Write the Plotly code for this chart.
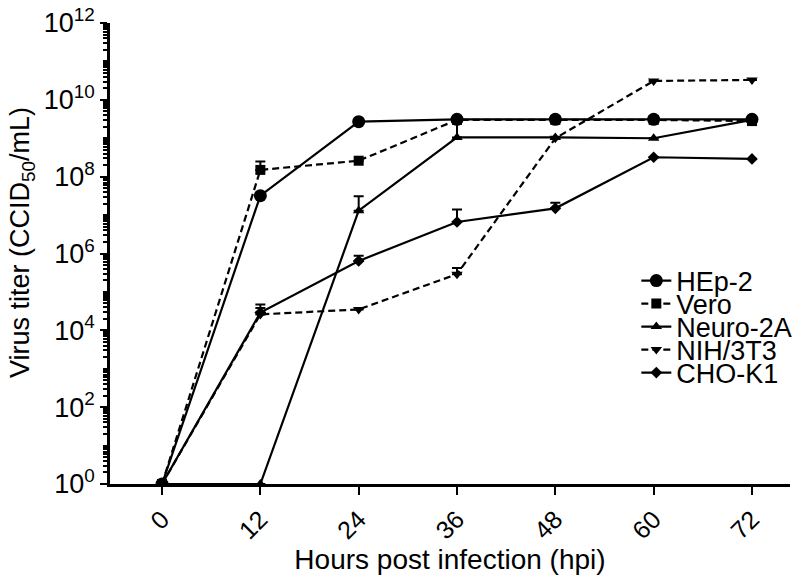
import plotly.graph_objects as go

hours = [0, 12, 24, 36, 48, 60, 72]
hep2 = [1, 3.2e7, 2.7e9, 3.1e9, 3.1e9, 3.1e9, 3.1e9]
vero = [1, 1.5e8, 2.6e8, 3.0e9, 3.0e9, 3.0e9, 2.8e9]
neuro = [1, 1, 1.3e7, 1.05e9, 1.05e9, 1.0e9, 3.0e9]
nih = [1, 2.6e4, 3.5e4, 2.9e5, 1.0e9, 3.1e10, 3.3e10]
cho = [1, 2.9e4, 6.4e5, 6.6e6, 1.5e7, 3.2e8, 2.9e8]

vero_err = [None, 1.0e8, None, None, None, None, None]
neuro_err = [None, None, 1.8e7, 2.0e9, None, None, None]
nih_err = [None, 1.2e4, None, 1.3e5, None, None, None]
cho_err = [None, 1.8e4, 2.3e5, 7.4e6, 6.0e6, None, None]

xtick_labels = ["0", "12", "24", "36", "48", "60", "72"]
ytick_exps = [0, 2, 4, 6, 8, 10, 12]

FONT = "Liberation Sans, Arial, sans-serif"

series = [
    ("HEp-2", hep2, None, "circle", 13, "solid"),
    ("Vero", vero, vero_err, "square", 10, "7px,4px"),
    ("Neuro-2A", neuro, neuro_err, "triangle-up", 10, "solid"),
    ("NIH/3T3", nih, nih_err, "triangle-down", 10, "7px,4px"),
    ("CHO-K1", cho, cho_err, "diamond", 9, "solid"),
]

# separate legend boxes so the rows can sit as close as in the original
legend_rows_px = [281, 304, 327, 350, 373]
plot_left, plot_right = 110, 790
plot_top, plot_bottom = 23, 484

fig = go.Figure()
legend_layout = {}
for i, (name, vals, err, sym, size, dash) in enumerate(series):
    lname = "legend" if i == 0 else "legend%d" % (i + 1)
    kw = {}
    if err is not None:
        kw["error_y"] = dict(type="data", symmetric=False, array=err,
                             arrayminus=[None if e is None else 0 for e in err],
                             color="black", thickness=2, width=5)
    fig.add_trace(go.Scatter(
        x=hours, y=vals, name=name, mode="lines+markers",
        line=dict(color="black", width=2.2, dash=dash),
        marker=dict(symbol=sym, size=size, color="black"),
        legend=lname, **kw))
    ypos = (plot_bottom - legend_rows_px[i]) / (plot_bottom - plot_top)
    legend_layout[lname] = dict(
        x=0.774, y=ypos, xanchor="left", yanchor="middle",
        font=dict(size=27, family=FONT, color="black"), itemwidth=30,
        bgcolor="rgba(0,0,0,0)", borderwidth=0)

minor_vals = []
for d in range(0, 12):
    for k in range(1, 10):
        v = k * 10 ** d
        if k == 1 and d % 2 == 0:
            continue
        minor_vals.append(v)

fig.update_layout(
    width=805, height=577,
    margin=dict(l=plot_left, r=805 - plot_right, t=plot_top, b=577 - plot_bottom,
                autoexpand=False),
    paper_bgcolor="white", plot_bgcolor="white",
    font=dict(family=FONT, size=24, color="black"),
    showlegend=True,
    **legend_layout,
)
fig.add_annotation(
    text="Virus titer (CCID<sub>50</sub>/mL)", textangle=-90,
    xref="paper", yref="paper",
    x=(22 - plot_left) / (plot_right - plot_left),
    y=(plot_bottom - 242) / (plot_bottom - plot_top),
    xanchor="center", yanchor="middle", showarrow=False,
    font=dict(size=27, family=FONT, color="black"),
)
fig.update_xaxes(
    range=[-6.35, 76.64], tickmode="array", tickvals=hours, ticktext=xtick_labels,
    tickangle=-45, ticks="outside", ticklen=8, tickwidth=2, tickcolor="black",
    showline=True, linecolor="black", linewidth=2.5, showgrid=False, zeroline=False,
    tickfont=dict(size=25), automargin=False,
    title=dict(text="Hours post infection (hpi)", font=dict(size=28), standoff=6),
)
fig.update_yaxes(
    type="log", range=[0, 12], tickmode="array",
    tickvals=[10 ** e for e in ytick_exps],
    ticktext=["10<sup>%d</sup>" % e for e in ytick_exps],
    ticks="outside", ticklen=7, tickwidth=2, tickcolor="black",
    minor=dict(tickvals=minor_vals, ticks="outside", ticklen=4, tickwidth=1.5,
               tickcolor="black", showgrid=False),
    showline=True, linecolor="black", linewidth=2.5, showgrid=False, zeroline=False,
    tickfont=dict(size=27), automargin=False,
)
fig.write_html("out.html", config={"displayModeBar": False},
               post_script="document.body.style.margin='0';")
